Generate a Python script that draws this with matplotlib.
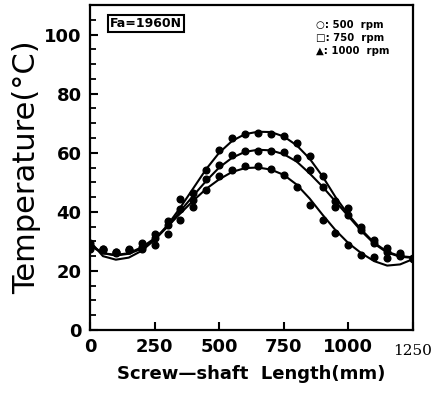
import numpy as np
import matplotlib.pyplot as plt
from matplotlib.ticker import MultipleLocator

# posiciones de medicion (mm)
x_pts = [0, 50, 100, 150, 200, 250, 300, 350, 400, 450, 500, 550, 600,
         650, 700, 750, 800, 850, 900, 950, 1000, 1050, 1100, 1150, 1200, 1250]

# temperaturas medidas
t_1000 = [29.5, 27.5, 26.5, 27.5, 29.5, 32.5, 37.0, 44.5, 46.5, 54.0, 61.0, 65.0, 66.5,
          66.7, 66.4, 65.8, 63.2, 58.8, 52.0, 43.5, 41.2, 35.0, 30.5, 27.7, 26.0, 24.5]
t_750 = [28.5, 27.5, 26.5, 27.0, 28.0, 31.0, 35.5, 41.0, 44.0, 51.0, 56.0, 59.3, 60.5,
         60.5, 60.5, 60.1, 58.2, 54.2, 48.4, 41.8, 39.0, 34.0, 29.5, 26.5, 25.5, 24.5]
t_500 = [27.5, 27.0, 26.0, 27.0, 27.5, 28.8, 32.5, 37.3, 41.8, 47.5, 52.0, 54.2, 55.4,
         55.4, 54.4, 52.5, 48.4, 42.4, 37.3, 32.8, 28.8, 25.5, 24.8, 24.3, 25.0, 24.0]

# curvas ajustadas
c_1000 = [30.0, 25.0, 23.8, 24.5, 26.8, 30.5, 35.5, 41.5, 48.0, 54.5, 60.0, 64.0, 66.3,
          67.1, 67.0, 65.5, 62.5, 58.0, 52.0, 45.0, 39.0, 34.0, 29.5, 26.5, 25.0, 24.6]
c_750 = [29.0, 26.0, 25.2, 25.8, 27.5, 30.5, 35.0, 40.3, 45.5, 50.5, 55.0, 58.3, 60.3,
         61.0, 60.8, 59.5, 57.0, 53.0, 48.5, 43.5, 38.5, 33.5, 29.2, 26.2, 24.8, 24.4]
c_500 = [28.5, 26.0, 25.4, 26.0, 28.0, 31.0, 35.0, 39.5, 43.8, 47.8, 51.0, 53.5, 54.8,
         55.0, 54.3, 52.5, 49.2, 44.5, 39.0, 33.8, 29.4, 26.0, 23.3, 21.8, 22.2, 24.0]

fig = plt.figure(figsize=(4.44, 3.98), dpi=100)
ax = fig.add_axes([90/444, 68/398, 323/444, 325/398])

for c in [c_1000, c_750, c_500]:
    ax.plot(x_pts, c, "k-", linewidth=1.5)
for t in [t_1000, t_750, t_500]:
    ax.plot(x_pts, t, "ko", markersize=4.8)

ax.set_xlim(0, 1250)
ax.set_ylim(0, 110)
ax.set_xticks([0, 250, 500, 750, 1000, 1250])
ax.set_xticklabels(["0", "250", "500", "750", "1000", ""])
ax.set_yticks([0, 20, 40, 60, 80, 100])
ax.yaxis.set_minor_locator(MultipleLocator(5))
ax.tick_params(axis="both", which="major", direction="in", length=6, width=1.5,
               labelsize=13, pad=6)
ax.tick_params(axis="y", which="minor", direction="in", length=4.5, width=1.3)
for lab in ax.get_xticklabels() + ax.get_yticklabels():
    lab.set_fontweight("bold")
ax.text(1.0, -0.042, "1250", transform=ax.transAxes, ha="center", va="top",
        fontsize=11, family="DejaVu Serif")
for s in ax.spines.values():
    s.set_linewidth(1.6)

ax.set_xlabel("Screw\u2014shaft  Length(mm)", fontsize=13, fontweight="bold", labelpad=6)
ax.set_ylabel("Temperature(°C)", fontsize=22, labelpad=2)

ax.text(0.062, 0.944, "Fa=1960N", transform=ax.transAxes, fontsize=9,
        fontweight="bold", va="center",
        bbox=dict(boxstyle="square,pad=0.15", fc="white", ec="k", lw=1.5))
leyenda = ["○: 500  rpm", "□: 750  rpm", "▲: 1000  rpm"]
for i, txt in enumerate(leyenda):
    ax.text(0.70, 0.94 - i*0.041, txt, transform=ax.transAxes, fontsize=7.3,
            fontweight="bold", va="center")

fig.savefig("out.png", dpi=100)
